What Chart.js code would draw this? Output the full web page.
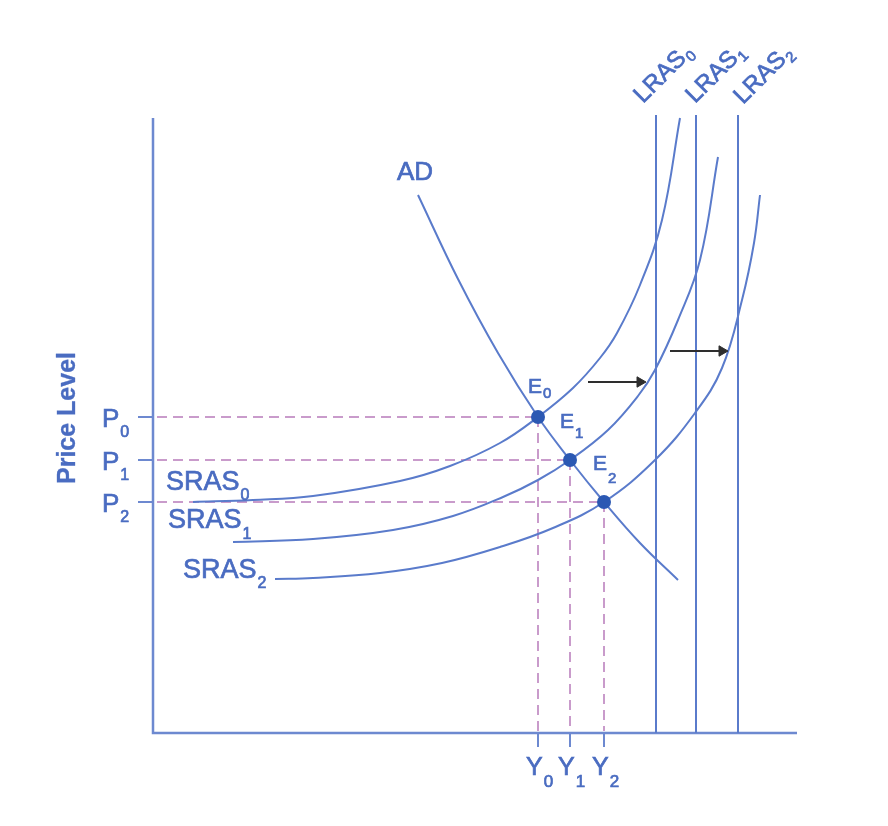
<!DOCTYPE html>
<html><head><meta charset="utf-8">
<script src="https://cdn.jsdelivr.net/npm/chart.js@4/dist/chart.umd.min.js"></script>
<style>html,body{margin:0;padding:0;background:#fff}</style>
</head><body>
<canvas id="c" width="888" height="826"></canvas>
<script>
const axisX = [0, 0, 644];
const axisY = [615, 0, 0];
const lrasX = [503, 543, 585];
const lrasTop = 618;
const sras0X = [40, 100, 160, 247, 297, 347, 385, 420, 447, 464, 487, 509, 527];
const sras0Y = [231, 233, 237, 252, 267, 290, 316, 345, 375, 400, 448, 513, 615];
const sras1X = [80, 160, 240, 300, 350, 385, 417, 455, 485, 502, 525, 547, 565];
const sras1Y = [191, 194, 203, 217, 236, 253, 273, 303, 337, 363, 413, 473, 576];
const sras2X = [122, 160, 227, 289, 347, 400, 451, 502, 542, 569, 589, 601, 607];
const sras2Y = [154, 155, 160, 170, 186, 205, 231, 273, 320, 365, 433, 490, 538];
const adX = [265, 305, 345, 385, 417, 451, 487, 525];
const adY = [538, 454, 380, 316, 273, 231, 190, 153];
const eqX = [385, 417, 451];      // Y0, Y1, Y2
const eqY = [316, 273, 231];      // P0, P1, P2
const subs = ['0', '1', '2'];
const arrowFromX = [435, 517];
const arrowToX = [490, 572];
const arrowY = [351, 382];

const BLUE = '#5a7bcb', AXIS = '#6d89d0', TEXT = '#4a6cc1', DOT = '#2b58b3', PINK = '#c99bcb', ARROW = '#2e2e2e';
const pts = (xs, ys) => xs.map((x, i) => ({x, y: ys[i]}));
const line = (data, color, width, order, extra) => Object.assign({
  data, showLine: true, borderColor: color, backgroundColor: color, borderWidth: width,
  pointRadius: 0, fill: false, clip: false, tension: 0, order
}, extra || {});

const datasets = [];
// dashed guides and ticks
eqX.forEach((x, i) => {
  datasets.push(line([{x: 4, y: eqY[i]}, {x, y: eqY[i]}], PINK, 2, 6, {borderDash: [10, 6]}));
  datasets.push(line([{x, y: eqY[i]}, {x, y: 2}], PINK, 2, 6, {borderDash: [10, 6]}));
  datasets.push(line([{x: -15, y: eqY[i]}, {x: 0, y: eqY[i]}], AXIS, 2, 5));
  datasets.push(line([{x, y: 0}, {x, y: -14}], AXIS, 2, 5));
});
// axes
datasets.push(line(pts(axisX, axisY), AXIS, 2.5, 4));
// LRAS
lrasX.forEach(x => datasets.push(line([{x, y: 0}, {x, y: lrasTop}], BLUE, 2, 3)));
// SRAS and AD
[[sras0X, sras0Y], [sras1X, sras1Y], [sras2X, sras2Y], [adX, adY]].forEach(([xs, ys]) =>
  datasets.push(line(pts(xs, ys), BLUE, 2, 2, {tension: 0.4})));
// arrows
arrowFromX.forEach((x0, i) => datasets.push(line([{x: x0, y: arrowY[i]}, {x: arrowToX[i] - 3, y: arrowY[i]}], ARROW, 2, 1, {
  pointRadius: [0, 6], pointStyle: 'triangle', rotation: 90, pointBorderWidth: 1
})));
// equilibrium points
datasets.push({data: pts(eqX, eqY), showLine: false, pointRadius: 7, backgroundColor: DOT, borderColor: DOT, borderWidth: 0, clip: false, order: 0});

const labels = [
  {t: 'AD', x: 244, y: 553, size: 26},
  {t: 'SRAS', s: '0', x: 13, y: 243, size: 27, ss: 16, sy: 10},
  {t: 'SRAS', s: '1', x: 15, y: 205, size: 27, ss: 16, sy: 11},
  {t: 'SRAS', s: '2', x: 30, y: 155, size: 27, ss: 16, sy: 10},
  {t: 'E', s: '0', x: 375, y: 340, size: 21, ss: 15, sy: 5},
  {t: 'E', s: '1', x: 407, y: 305, size: 21, ss: 15, sy: 10},
  {t: 'E', s: '2', x: 440, y: 263, size: 21, ss: 15, sy: 13}
];
eqY.forEach((p, i) => labels.push({t: 'P', s: subs[i], x: -51, y: p - 10, size: 26, ss: 16, sy: 10}));
eqX.forEach((q, i) => labels.push({t: 'Y', s: subs[i], x: q - 12, y: -42, size: 25, ss: 17, sy: 12}));
const lrasLabels = [{x: 490, y: 629}, {x: 542, y: 629}, {x: 590, y: 628}];

function txt(ctx, s, x, y, size, weight) {
  ctx.font = (weight || '') + ' ' + size + 'px "Liberation Sans", Arial, sans-serif';
  ctx.fillText(s, x, y);
  ctx.strokeText(s, x, y);
  return ctx.measureText(s).width;
}

const textPlugin = {
  id: 'texts',
  afterDatasetsDraw(chart) {
    const {ctx, scales: {x: sx, y: sy}} = chart;
    ctx.save();
    ctx.fillStyle = TEXT;
    ctx.strokeStyle = TEXT;
    ctx.lineWidth = 0.7;
    ctx.textBaseline = 'alphabetic';
    ctx.textAlign = 'left';
    labels.forEach(l => {
      const px = sx.getPixelForValue(l.x), py = sy.getPixelForValue(l.y);
      const w = txt(ctx, l.t, px, py, l.size);
      if (l.s) txt(ctx, l.s, px + w + 1, py + l.sy, l.ss);
    });
    lrasLabels.forEach((l, i) => {
      ctx.save();
      ctx.translate(sx.getPixelForValue(l.x), sy.getPixelForValue(l.y));
      ctx.rotate(-Math.PI / 4);
      const w = txt(ctx, 'LRAS', 0, 0, 24);
      txt(ctx, subs[i], w + 1, 5, 15);
      ctx.restore();
    });
    ctx.save();
    ctx.translate(sx.getPixelForValue(-85), sy.getPixelForValue(315));
    ctx.rotate(-Math.PI / 2);
    ctx.textAlign = 'center';
    ctx.textBaseline = 'middle';
    ctx.lineWidth = 0.3;
    txt(ctx, 'Price Level', 0, 0, 25, 'bold');
    ctx.restore();
    ctx.restore();
  }
};

new Chart(document.getElementById('c'), {
  type: 'scatter',
  data: {datasets},
  options: {
    responsive: false,
    animation: false,
    layout: {padding: {left: 153, right: 91, top: 13, bottom: 93}},
    scales: {
      x: {type: 'linear', min: 0, max: 644, display: false},
      y: {type: 'linear', min: 0, max: 720, display: false}
    },
    plugins: {legend: {display: false}, tooltip: {enabled: false}, title: {display: false}}
  },
  plugins: [textPlugin]
});
</script>
</body></html>
